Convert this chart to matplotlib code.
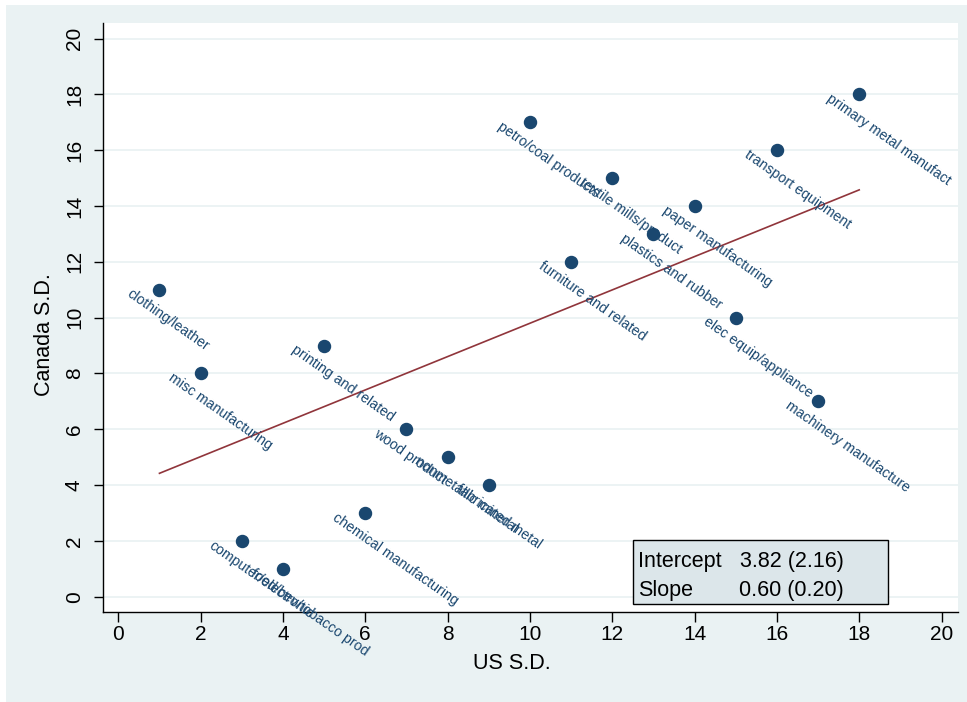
import matplotlib
matplotlib.use("Agg")
import matplotlib.pyplot as plt
from matplotlib.patches import Rectangle
import numpy as np

plt.rcParams['font.family'] = ['Liberation Sans', 'DejaVu Sans']

industries = ["clothing/leather", "misc manufacturing", "computer/electronic",
              "food/bev/tobacco prod", "printing and related", "chemical manufacturing",
              "wood product", "nonmetallic mineral", "fabricated metal",
              "petro/coal products", "furniture and related", "textile mills/product",
              "plastics and rubber", "paper manufacturing", "elec equip/appliance",
              "transport equipment", "machinery manufacture", "primary metal manufact"]
us_sd = [1, 2, 3, 4, 5, 6, 7, 8, 9, 10, 11, 12, 13, 14, 15, 16, 17, 18]
canada_sd = [11, 8, 2, 1, 9, 3, 6, 5, 4, 17, 12, 15, 13, 14, 10, 16, 7, 18]
intercept_txt = "3.82 (2.16)"
slope_txt = "0.60 (0.20)"
ticks = [0, 2, 4, 6, 8, 10, 12, 14, 16, 18, 20]

BG = "#eaf2f3"
NAVY = "#1a476f"
MAROON = "#90353b"

W, H = 967, 702
fig = plt.figure(figsize=(W / 100, H / 100), dpi=100, facecolor="white")
fig.patches.append(Rectangle((6 / W, 0), 1 - 6 / W, 1 - 5 / H, transform=fig.transFigure,
                             facecolor=BG, edgecolor="none", zorder=-10))

ax = fig.add_axes([102.7 / W, 1 - 612.3 / H, (958 - 102.7) / W, (612.3 - 22.7) / H])
ax.set_facecolor("white")
ax.set_xlim(-0.379, 20.40)
ax.set_ylim(-0.56, 20.57)

ax.set_xticks(ticks)
ax.set_yticks(ticks)
ax.set_yticklabels([str(t) for t in ticks], rotation=90, va="center")
ax.tick_params(axis="x", length=7, width=1, pad=2, labelsize=15, color="black")
ax.tick_params(axis="y", length=6.5, width=1, pad=7, labelsize=15, color="black")
ax.grid(axis="y", color=BG, lw=1.3, zorder=0)
ax.set_axisbelow(True)
for s in ["top", "right"]:
    ax.spines[s].set_visible(False)
for s in ["left", "bottom"]:
    ax.spines[s].set_linewidth(1.0)
    ax.spines[s].set_color("black")

ax.scatter(us_sd, canada_sd, s=75, color=NAVY, edgecolor=NAVY, zorder=3, clip_on=False)
for name, x, y in zip(industries, us_sd, canada_sd):
    ax.annotate(name, (x, y), xytext=(-31, -3), textcoords="offset pixels",
                rotation=-35, rotation_mode="anchor", ha="left", va="center",
                fontsize=10.2, color=NAVY, zorder=4, annotation_clip=False)

b, a = np.polyfit(us_sd, canada_sd, 1)
xs = np.array([min(us_sd), max(us_sd)])
ax.plot(xs, a + b * xs, color=MAROON, lw=1.2, zorder=2)

fig.text(512 / W, 1 - 663.5 / H, "US S.D.", ha="center", va="center", fontsize=15.5)
fig.text(45 / W, 1 - 335 / H, "Canada S.D.", ha="center", va="center", rotation=90, fontsize=15.5)

fig.patches.append(Rectangle((633 / W, 1 - 604 / H), 255 / W, 64 / H, transform=fig.transFigure,
                             facecolor="#dce6ea", edgecolor="black", lw=1.0, zorder=5))
fig.text(638 / W, 1 - 567 / H, "Intercept", ha="left", va="baseline", fontsize=15.5, zorder=6)
fig.text(844 / W, 1 - 567 / H, intercept_txt, ha="right", va="baseline", fontsize=15.5, zorder=6)
fig.text(638 / W, 1 - 596 / H, "Slope", ha="left", va="baseline", fontsize=15.5, zorder=6)
fig.text(844 / W, 1 - 596 / H, slope_txt, ha="right", va="baseline", fontsize=15.5, zorder=6)

fig.savefig("out.png", dpi=100, facecolor=fig.get_facecolor())
